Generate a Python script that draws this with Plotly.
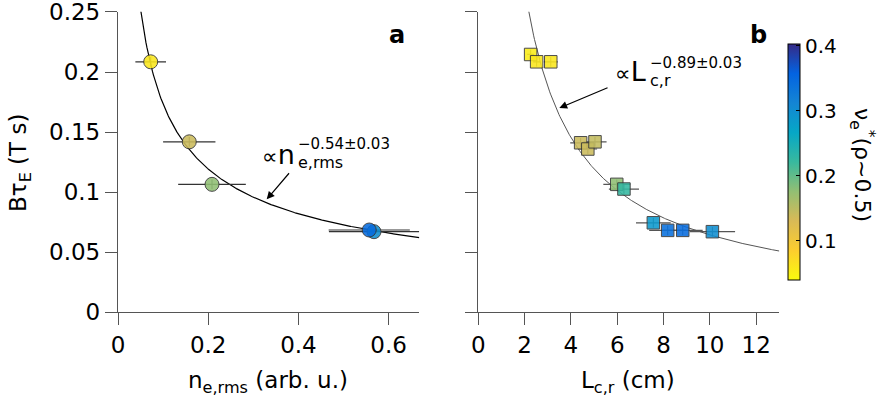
import numpy as np
import plotly.graph_objects as go

W, H = 886, 413

# ---------------- data ----------------
# Panel a: n_e,rms vs B*tau_E
a_x = [0.0725, 0.158, 0.2084, 0.5676, 0.557]
a_y = [0.2085, 0.1419, 0.1065, 0.0671, 0.0685]
a_xerr = [0.034, 0.058, 0.075, 0.100, 0.090]
a_yerr = [0.004, 0.004, 0.004, 0.003, 0.003]
a_nu = [0.060, 0.140, 0.177, 0.300, 0.345]

# Panel b: L_c,r vs B*tau_E
b_x = [2.26, 2.52, 3.13, 4.42, 4.73, 5.04, 5.98, 6.29, 7.56, 8.18, 8.83, 10.11]
b_y = [0.2146, 0.2085, 0.2085, 0.1411, 0.1359, 0.1419, 0.1065, 0.1026,
       0.0745, 0.0682, 0.0682, 0.0671]
b_xerr = [0.15, 0.15, 0.30, 0.45, 0.40, 0.50, 0.58, 0.65, 0.75, 0.80, 0.86, 0.98]
b_yerr = [0.004] * 12
b_nu = [0.055, 0.060, 0.060, 0.140, 0.140, 0.145, 0.177, 0.225,
        0.285, 0.340, 0.345, 0.300]

# Power-law fits
fit_a_coef, fit_a_exp = 0.0500, -0.54
fit_b_coef, fit_b_exp = 0.500, -0.89

x_ticks_a = [0, 0.2, 0.4, 0.6]
x_ticks_b = [0, 2, 4, 6, 8, 10, 12]
y_ticks = [0, 0.05, 0.1, 0.15, 0.2, 0.25]
y_ticklabels = ["0", "0.05", "0.1", "0.15", "0.2", "0.25"]
cb_ticks = [0.1, 0.2, 0.3, 0.4]

# reversed parula
colorscale = [
    [0.000, "#f9fb0e"], [0.125, "#fcce2e"], [0.250, "#d9ba56"],
    [0.375, "#92bf73"], [0.500, "#38b99e"], [0.625, "#06a7c6"],
    [0.750, "#1485d4"], [0.875, "#0363e1"], [1.000, "#352a87"],
]

FONT = "DejaVu Sans"


def px(x):
    return x / W


def py(y):
    return 1 - y / H


fig = go.Figure()

xa = np.linspace(0.0495, 0.668, 300)
fig.add_trace(go.Scatter(x=xa, y=fit_a_coef * xa ** fit_a_exp, mode="lines",
                         line=dict(color="black", width=1.2),
                         xaxis="x", yaxis="y", showlegend=False, hoverinfo="skip"))
xb = np.linspace(2.1, 13.0, 300)
fig.add_trace(go.Scatter(x=xb, y=fit_b_coef * xb ** fit_b_exp, mode="lines",
                         line=dict(color="#555555", width=1),
                         xaxis="x2", yaxis="y2", showlegend=False, hoverinfo="skip"))

fig.add_trace(go.Scatter(
    x=a_x, y=a_y, mode="markers", xaxis="x", yaxis="y", showlegend=False,
    error_x=dict(type="data", array=a_xerr, color="#333333", thickness=1.2, width=0),
    error_y=dict(type="data", array=a_yerr, color="#333333", thickness=1, width=0),
    marker=dict(symbol="circle", size=14, color=a_nu, coloraxis="coloraxis",
                opacity=0.88, line=dict(color="#333333", width=1)),
))
fig.add_trace(go.Scatter(
    x=b_x, y=b_y, mode="markers", xaxis="x2", yaxis="y2", showlegend=False,
    error_x=dict(type="data", array=b_xerr, color="#555555", thickness=1.2, width=0),
    error_y=dict(type="data", array=b_yerr, color="#555555", thickness=1, width=0),
    marker=dict(symbol="square", size=12.5, color=b_nu, coloraxis="coloraxis",
                opacity=0.88, line=dict(color="#333333", width=1)),
))

axis_common = dict(showgrid=False, zeroline=False, showline=True,
                   linecolor="#555555", linewidth=1.3, ticks="outside",
                   ticklen=12, tickcolor="#555555", tickwidth=1,
                   tickfont=dict(family=FONT, size=23, color="black"),
                   ticklabeloverflow="allow", automargin=False)

y_dom = [py(312.3), py(11.7)]
y_range = [0, 0.2502]

fig.update_layout(
    width=W, height=H, margin=dict(l=0, r=0, t=0, b=0),
    paper_bgcolor="white", plot_bgcolor="white",
    font=dict(family=FONT, color="black"),
    xaxis=dict(domain=[px(118.0), px(419.3)], range=[0, 0.668],
               tickvals=x_ticks_a, ticktext=[str(v) for v in x_ticks_a],
               anchor="y", **axis_common),
    yaxis=dict(domain=y_dom, range=y_range, tickvals=y_ticks,
               ticktext=y_ticklabels, anchor="x", **axis_common),
    xaxis2=dict(domain=[px(478.3), px(779.3)], range=[0, 13],
                tickvals=x_ticks_b, ticktext=[str(v) for v in x_ticks_b],
                anchor="y2", **axis_common),
    yaxis2=dict(domain=y_dom, range=y_range, tickvals=y_ticks,
                showticklabels=False, anchor="x2", **axis_common),
    coloraxis=dict(
        colorscale=colorscale, cmin=0.04, cmax=0.403,
        colorbar=dict(
            x=px(788), xanchor="left", y=py(162), yanchor="middle",
            thicknessmode="pixels", thickness=12, lenmode="pixels", len=236,
            outlinewidth=1, outlinecolor="black", tickvals=cb_ticks,
            ticktext=["0.1", "0.2", "0.3", "0.4"], ticks="inside", ticklen=4,
            tickcolor="black", tickfont=dict(family=FONT, size=20, color="black"),
            xpad=0, ypad=0,
        ),
    ),
)

ann = []
# axis titles
ann.append(dict(text="Bτ<sub>E</sub> (T s)", x=px(20), y=py(163), textangle=-90,
                font=dict(size=23)))
ann.append(dict(text="n<sub>e,rms</sub> (arb. u.)", x=px(268), y=py(382),
                font=dict(size=23)))
ann.append(dict(text="L<sub>c,r</sub> (cm)", x=px(628), y=py(382),
                font=dict(size=23)))
# colorbar title
ann.append(dict(text="ν<sub>e</sub><sup>*</sup>(ρ~0.5)", x=px(862), y=py(165),
                textangle=90, font=dict(size=22)))
# panel letters
ann.append(dict(text="<b>a</b>", x=px(397), y=py(35), font=dict(size=24)))
ann.append(dict(text="<b>b</b>", x=px(758), y=py(35), font=dict(size=24)))
# fit label a
ann.append(dict(text='<span style="font-size:22px">∝</span>n', x=px(297), y=py(154),
                xanchor="right", font=dict(size=27)))
ann.append(dict(text="e,rms", x=px(296), y=py(162), xanchor="left", font=dict(size=16)))
ann.append(dict(text="−0.54±0.03", x=px(296), y=py(144), xanchor="left", font=dict(size=15)))
# fit label b
ann.append(dict(text='<span style="font-size:22px">∝</span>L', x=px(648), y=py(71),
                xanchor="right", font=dict(size=27)))
ann.append(dict(text="c,r", x=px(648), y=py(80), xanchor="left", font=dict(size=16)))
ann.append(dict(text="−0.89±0.03", x=px(648), y=py(63), xanchor="left", font=dict(size=15)))

for a in ann:
    a.setdefault("xref", "paper")
    a.setdefault("yref", "paper")
    a.setdefault("showarrow", False)
    a.setdefault("xanchor", "center")
    a.setdefault("yanchor", "middle")
    f = a["font"]
    f.setdefault("family", FONT)
    f.setdefault("color", "black")

# arrows
ann.append(dict(text="", x=0.3297, y=0.094, xref="x", yref="y", ax=23.6, ay=-27.6,
                showarrow=True, arrowhead=2, arrowsize=1.3, arrowwidth=1.2,
                arrowcolor="black"))
ann.append(dict(text="", x=3.50, y=0.170, xref="x2", yref="y2", ax=49.7, ay=-21,
                showarrow=True, arrowhead=2, arrowsize=1.3, arrowwidth=1.2,
                arrowcolor="black"))

fig.update_layout(annotations=ann)
fig.write_html("out.html")
